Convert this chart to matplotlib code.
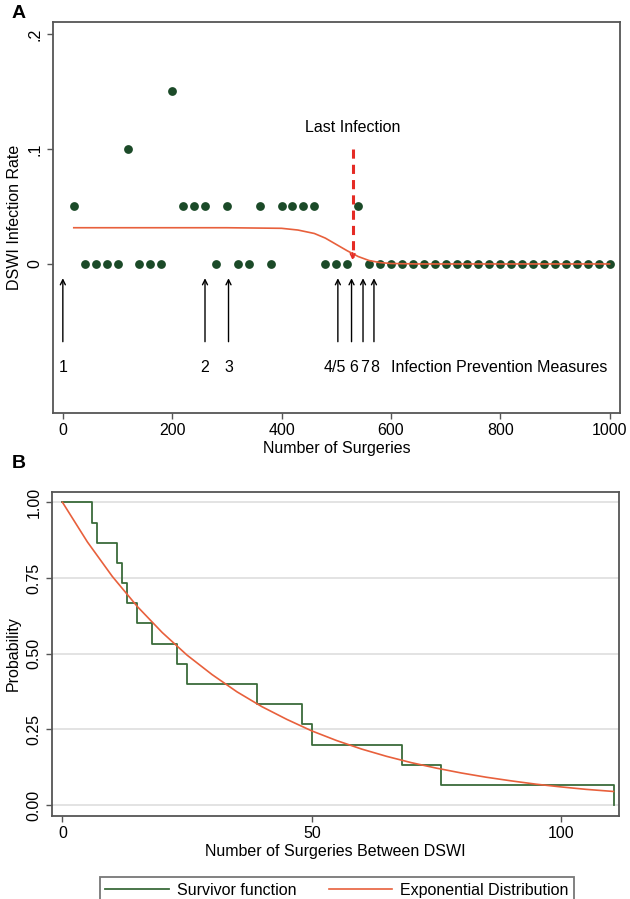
import matplotlib.pyplot as plt

plt.rcParams["font.family"] = ["Liberation Sans", "DejaVu Sans"]

# Panel A: infection rate per block of 20 surgeries
surgeries = list(range(20, 1001, 20))
infection_rate = [0.05, 0, 0, 0, 0, 0.10, 0, 0, 0, 0.15,
                  0.05, 0.05, 0.05, 0, 0.05, 0, 0, 0.05, 0, 0.05,
                  0.05, 0.05, 0.05, 0, 0, 0, 0.05] + [0] * 23

# fitted rate curve
fit_x = [20, 300, 400, 430, 460, 480, 500, 520, 540, 560, 580, 600, 650, 1000]
fit_y = [0.0315, 0.0315, 0.031, 0.0295, 0.0265, 0.0225, 0.017, 0.0115,
         0.0065, 0.003, 0.0012, 0.0004, 0.0, 0.0]

measure_x = [0, 260, 303, 503, 528, 549, 569]
measure_label_x = [0, 260, 303, 498, 532, 551, 571]
measure_labels = ["1", "2", "3", "4/5", "6", "7", "8"]
last_infection_x = 530

# Panel B: survivor function vs exponential fit
gap_x = [0, 6, 7, 11, 12, 13, 15, 18, 23, 25, 39, 48, 50, 68, 76, 110.5]
survival = [1.0, 0.933, 0.867, 0.8, 0.733, 0.667, 0.6, 0.533, 0.467, 0.4,
            0.333, 0.267, 0.2, 0.133, 0.067, 0.0]
exp_x = [0, 5, 10, 15, 20, 25, 30, 35, 40, 45, 50, 55, 60, 65, 70, 75, 80,
         85, 90, 95, 100, 105, 110.5]
exp_y = [1.0, 0.869, 0.755, 0.656, 0.570, 0.495, 0.431, 0.374, 0.325, 0.283,
         0.245, 0.213, 0.185, 0.161, 0.140, 0.122, 0.106, 0.092, 0.080, 0.069,
         0.060, 0.052, 0.045]

DOT_GREEN = "#1b4a28"
LINE_GREEN = "#3a6b3a"
ORANGE = "#e8603c"
RED = "#e52b25"
FRAME = "#555555"
FS = 11.5


def style_axes(ax):
    for s in ax.spines.values():
        s.set_color(FRAME)
        s.set_linewidth(1.3)
    ax.tick_params(direction="out", length=4.5, width=1, color=FRAME, labelsize=FS, pad=3)


fig = plt.figure(figsize=(6.3, 8.99), dpi=100)

# ---------- Panel A ----------
ax1 = fig.add_axes([53 / 630, 1 - 413 / 899, 567 / 630, 391 / 899])
style_axes(ax1)
ax1.scatter(surgeries, infection_rate, s=40, color=DOT_GREEN, zorder=3, linewidths=0)
ax1.plot(fit_x, fit_y, color=ORANGE, lw=1.2, zorder=4)

# last infection marker
ax1.plot([last_infection_x, last_infection_x], [0.1, 0.006], color=RED, lw=2.2,
         linestyle=(0, (3, 2)), zorder=5)
ax1.annotate("", xy=(last_infection_x, 0.001), xytext=(last_infection_x, 0.012),
             arrowprops=dict(arrowstyle="->", color=RED, lw=1.2, mutation_scale=8), zorder=5)
ax1.text(last_infection_x, 0.119, "Last Infection", ha="center", va="center", fontsize=FS)

# infection prevention measures
for mx in measure_x:
    ax1.annotate("", xy=(mx, -0.010), xytext=(mx, -0.070),
                 arrowprops=dict(arrowstyle="->", color="black", lw=1.0, mutation_scale=9))
for lx, lab in zip(measure_label_x, measure_labels):
    ax1.text(lx, -0.090, lab, ha="center", va="center", fontsize=FS)
ax1.text(600, -0.090, "Infection Prevention Measures", ha="left", va="center", fontsize=FS)

ax1.set_xlim(-18, 1019)
ax1.set_ylim(-0.1296, 0.2104)
ax1.set_xticks([0, 200, 400, 600, 800, 1000])
ax1.set_yticks([0, 0.1, 0.2])
ax1.set_yticklabels(["0", ".1", ".2"], rotation=90, va="center")
ax1.set_xlabel("Number of Surgeries", fontsize=FS, labelpad=2)
ax1.set_ylabel("DSWI Infection Rate", fontsize=FS, labelpad=4)
fig.text(12 / 630, 1 - 13 / 899, "A", fontsize=14, fontweight="bold", va="center")

# ---------- Panel B ----------
ax2 = fig.add_axes([52 / 630, 1 - 816 / 899, 567 / 630, 324 / 899])
style_axes(ax2)
for g in [0, 0.25, 0.5, 0.75, 1.0]:
    ax2.axhline(g, color="#dedede", lw=1.2, zorder=0)
ax2.step(gap_x, survival, where="post", color=LINE_GREEN, lw=1.3, label="Survivor function", zorder=3)
ax2.plot(exp_x, exp_y, color=ORANGE, lw=1.2, label="Exponential Distribution", zorder=4)

ax2.set_xlim(-2.1, 111.6)
ax2.set_ylim(-0.036, 1.034)
ax2.set_xticks([0, 50, 100])
ax2.set_yticks([0, 0.25, 0.5, 0.75, 1.0])
ax2.set_yticklabels(["0.00", "0.25", "0.50", "0.75", "1.00"], rotation=90, va="center")
ax2.set_xlabel("Number of Surgeries Between DSWI", fontsize=FS, labelpad=2)
ax2.set_ylabel("Probability", fontsize=FS, labelpad=4)
fig.text(12 / 630, 1 - 464 / 899, "B", fontsize=14, fontweight="bold", va="center")

leg = fig.legend(loc="upper center", bbox_to_anchor=(337 / 630, 1 - 869 / 899), ncol=2,
                 fontsize=FS, frameon=True, fancybox=False, handlelength=4.0,
                 handletextpad=0.5, columnspacing=2.0, borderpad=0.35)
leg.get_frame().set_edgecolor(FRAME)
leg.get_frame().set_linewidth(1.3)

fig.savefig("out.png", dpi=100)
